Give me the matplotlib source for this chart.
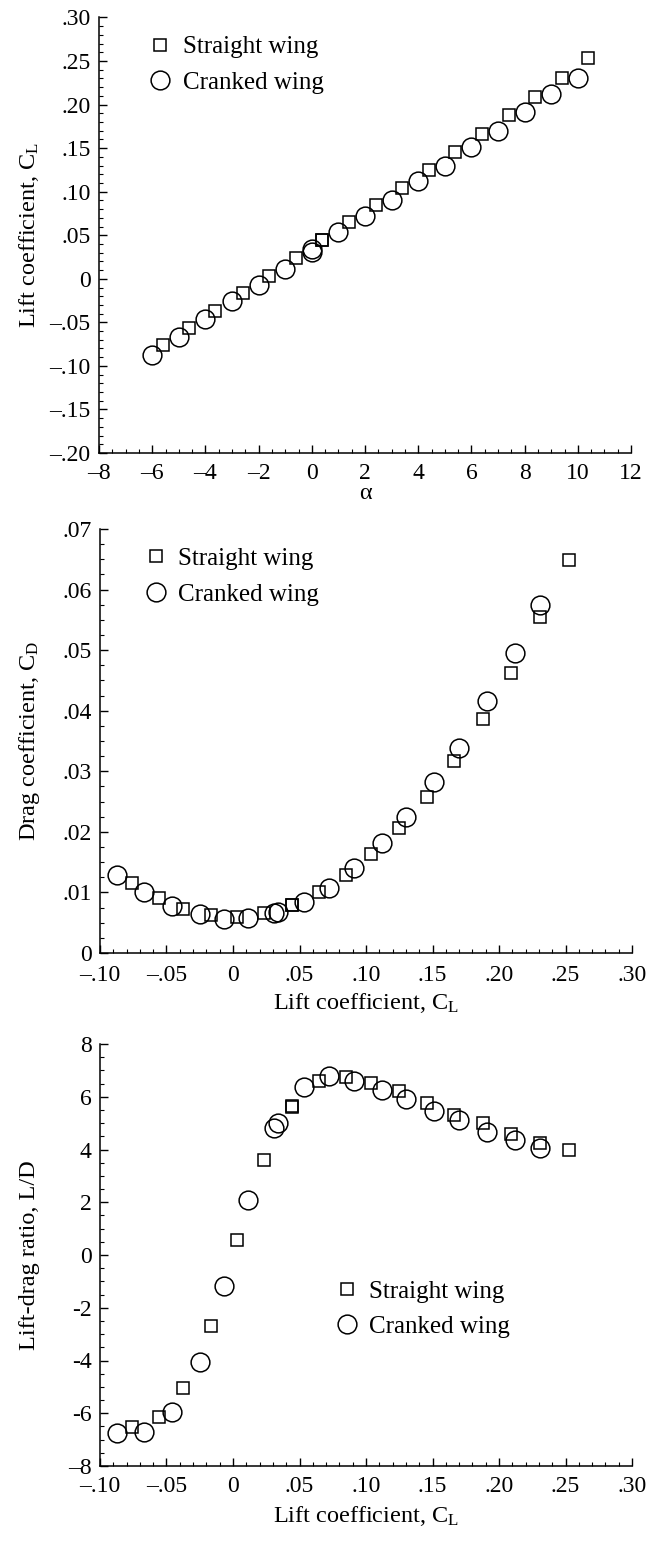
import matplotlib
matplotlib.use("Agg")
import matplotlib.pyplot as plt
from matplotlib.ticker import MultipleLocator, FuncFormatter

plt.rcParams['font.family'] = ['Liberation Serif', 'DejaVu Serif']
plt.rcParams['mathtext.fontset'] = 'custom'
plt.rcParams['mathtext.rm'] = 'Liberation Serif'
plt.rcParams['mathtext.it'] = 'Liberation Serif:italic'

# ---------------- data ----------------
straight_alpha = [-5.6, -4.6, -3.65, -2.6, -1.6, -0.6, 0.4, 0.4, 1.4, 2.4, 3.4, 4.4, 5.4, 6.4, 7.4, 8.4, 9.4, 10.4]
straight_cl = [-0.076, -0.056, -0.0375, -0.0165, 0.003, 0.0235, 0.0445, 0.0445, 0.065, 0.085, 0.104,
               0.125, 0.146, 0.166, 0.188, 0.209, 0.231, 0.253]
straight_cd = [0.0115, 0.0091, 0.0073, 0.0063, 0.0059, 0.0066, 0.0079, 0.0080, 0.0100, 0.0128, 0.0163,
               0.0206, 0.0258, 0.0317, 0.0386, 0.0462, 0.0554, 0.0649]
straight_ld = [-6.52, -6.16, -5.03, -2.70, 0.58, 3.59, 5.60, 5.66, 6.59, 6.73, 6.52,
               6.20, 5.75, 5.32, 4.99, 4.60, 4.24, 3.99]

cranked_alpha = [-6, -5, -4, -3, -2, -1, 0, 0, 1, 2, 3, 4, 5, 6, 7, 8, 9, 10]
cranked_cl = [-0.087, -0.067, -0.046, -0.025, -0.007, 0.011, 0.031, 0.034, 0.0535, 0.072, 0.091,
              0.112, 0.130, 0.151, 0.170, 0.191, 0.212, 0.231]
cranked_cd = [0.0128, 0.0100, 0.0077, 0.0064, 0.0056, 0.0058, 0.0066, 0.0068, 0.0085, 0.0107, 0.0141,
              0.0182, 0.0224, 0.0282, 0.0339, 0.0416, 0.0495, 0.0575]
cranked_ld = [-6.74, -6.70, -5.97, -4.05, -1.17, 2.10, 4.80, 5.00, 6.38, 6.78, 6.61,
              6.26, 5.93, 5.45, 5.12, 4.67, 4.35, 4.06]

series_labels = ["Straight wing", "Cranked wing"]

# ---------------- formatters ----------------
def dec_fmt(v, pos):
    if abs(v) < 1e-9:
        return "0"
    s = "%.2f" % abs(v)
    s = s[1:] if s.startswith("0") else s
    return ("\u2013" + s) if v < 0 else s

def int_fmt(v, pos):
    if abs(v) < 1e-9:
        return "0"
    return ("\u2013%d" % abs(v)) if v < 0 else "%d" % v

def ld_fmt(v, pos):
    if abs(v) < 1e-9:
        return "0"
    if v <= -7.9:
        return "\u2013%d" % abs(v)
    return ("-%d" % abs(v)) if v < 0 else "%d" % v

TICK_FS = 17
LAB_FS = 17.5
LEG_FS = 18

fig = plt.figure(figsize=(6.5, 15.45), dpi=100)
W, H = 650.0, 1545.0

def make_ax(l, r, t, b):
    return fig.add_axes([l / W, 1 - b / H, (r - l) / W, (b - t) / H])

ax1 = make_ax(99, 631, 17.5, 453)
ax2 = make_ax(100, 632, 529, 953)
ax3 = make_ax(100, 632, 1044, 1466)

sq_kw = dict(linestyle='none', marker='s', ms=9, mfc='none', mec='black', mew=1.1)
ci_kw = dict(linestyle='none', marker='o', ms=13.5, mfc='none', mec='black', mew=1.1)

def style(ax, xpad):
    for s in ['top', 'right']:
        ax.spines[s].set_visible(False)
    for s in ['left', 'bottom']:
        ax.spines[s].set_linewidth(1.1)
    ax.tick_params(which='major', direction='in', length=6, width=1.0, labelsize=TICK_FS)
    ax.tick_params(which='minor', direction='in', length=3, width=0.8)
    ax.tick_params(axis='y', which='major', pad=6)
    ax.tick_params(axis='x', which='major', pad=xpad)
    ax.tick_params(top=False, right=False, which='both')

def legend(ax, x, y):
    ax.legend(series_labels, loc='center left', bbox_to_anchor=(x, y), frameon=False,
              fontsize=LEG_FS, numpoints=1, handlelength=0.88, handletextpad=0.46,
              labelspacing=0.52, borderpad=0, borderaxespad=0)

# Panel 1
ax1.plot(straight_alpha, straight_cl, **sq_kw)
ax1.plot(cranked_alpha, cranked_cl, **ci_kw)
ax1.set_xlim(-8, 12)
ax1.set_ylim(-0.20, 0.30)
ax1.xaxis.set_major_locator(MultipleLocator(2))
ax1.xaxis.set_minor_locator(MultipleLocator(0.5))
ax1.yaxis.set_major_locator(MultipleLocator(0.05))
ax1.yaxis.set_minor_locator(MultipleLocator(0.01))
ax1.xaxis.set_major_formatter(FuncFormatter(int_fmt))
ax1.yaxis.set_major_formatter(FuncFormatter(dec_fmt))
style(ax1, 7)
ax1.set_xlabel("\u03b1", fontsize=LAB_FS)
ax1.xaxis.set_label_coords(0.5, -0.094)
ax1.xaxis.label.set_va('center')
ax1.set_ylabel("Lift coefficient, C$_{\\mathrm{L}}$", fontsize=LAB_FS)
ax1.yaxis.set_label_coords(-0.132, 0.5)
ax1.yaxis.label.set_va('center')
legend(ax1, 0.094, 0.891)

# Panel 2
ax2.plot(straight_cl, straight_cd, **sq_kw)
ax2.plot(cranked_cl, cranked_cd, **ci_kw)
ax2.set_xlim(-0.10, 0.30)
ax2.set_ylim(0, 0.07)
ax2.xaxis.set_major_locator(MultipleLocator(0.05))
ax2.xaxis.set_minor_locator(MultipleLocator(0.01))
ax2.yaxis.set_major_locator(MultipleLocator(0.01))
ax2.yaxis.set_minor_locator(MultipleLocator(0.0025))
ax2.xaxis.set_major_formatter(FuncFormatter(dec_fmt))
ax2.yaxis.set_major_formatter(FuncFormatter(dec_fmt))
style(ax2, 8.5)
ax2.set_xlabel("Lift coefficient, C$_{\\mathrm{L}}$", fontsize=LAB_FS)
ax2.xaxis.set_label_coords(0.5, -0.117)
ax2.xaxis.label.set_va('center')
ax2.set_ylabel("Drag coefficient, C$_{\\mathrm{D}}$", fontsize=LAB_FS)
ax2.yaxis.set_label_coords(-0.133, 0.5)
ax2.yaxis.label.set_va('center')
legend(ax2, 0.084, 0.8875)

# Panel 3
ax3.plot(straight_cl, straight_ld, **sq_kw)
ax3.plot(cranked_cl, cranked_ld, **ci_kw)
ax3.set_xlim(-0.10, 0.30)
ax3.set_ylim(-8, 8)
ax3.xaxis.set_major_locator(MultipleLocator(0.05))
ax3.xaxis.set_minor_locator(MultipleLocator(0.01))
ax3.yaxis.set_major_locator(MultipleLocator(2))
ax3.yaxis.set_minor_locator(MultipleLocator(0.5))
ax3.xaxis.set_major_formatter(FuncFormatter(dec_fmt))
ax3.yaxis.set_major_formatter(FuncFormatter(ld_fmt))
style(ax3, 7)
ax3.set_xlabel("Lift coefficient, C$_{\\mathrm{L}}$", fontsize=LAB_FS)
ax3.xaxis.set_label_coords(0.5, -0.118)
ax3.xaxis.label.set_va('center')
ax3.set_ylabel("Lift-drag ratio, L/D", fontsize=LAB_FS)
ax3.yaxis.set_label_coords(-0.133, 0.5)
ax3.yaxis.label.set_va('center')
legend(ax3, 0.443, 0.372)

fig.savefig("out.png", dpi=100)
